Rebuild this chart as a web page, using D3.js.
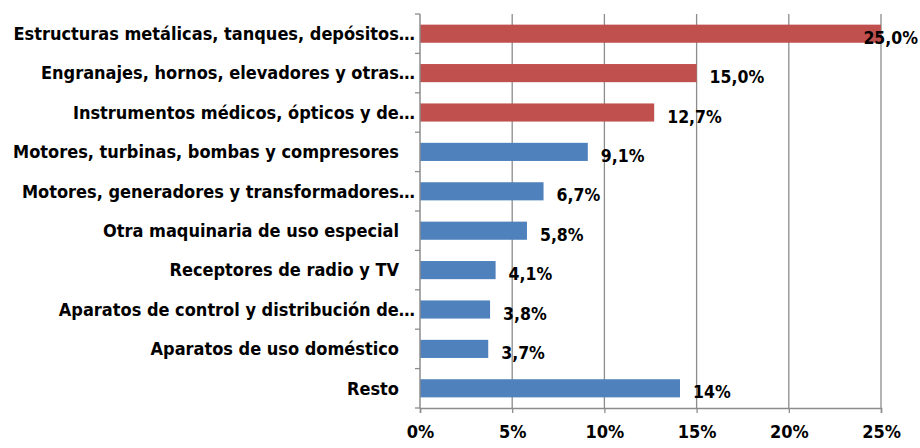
<!DOCTYPE html>
<html>
<head>
<meta charset="utf-8">
<script src="https://cdn.jsdelivr.net/npm/d3@7"></script>
<style>
  body { margin: 0; background: #fff; }
  svg text { font-family: "Liberation Sans Narrow", "Arial Narrow", "DejaVu Sans Condensed", sans-serif; font-weight: bold; fill: #000; }
</style>
</head>
<body>
<div id="chart"></div>
<script>
const categorias = [
  'Estructuras metálicas, tanques, depósitos…',
  'Engranajes, hornos, elevadores y otras…',
  'Instrumentos médicos, ópticos y de…',
  'Motores, turbinas, bombas y compresores',
  'Motores, generadores y transformadores…',
  'Otra maquinaria de uso especial',
  'Receptores de radio y TV',
  'Aparatos de control y distribución de…',
  'Aparatos de uso doméstico',
  'Resto'
];
const valores = [25.0, 15.0, 12.7, 9.1, 6.7, 5.8, 4.1, 3.8, 3.7, 14.1];
const etiquetas = ['25,0%', '15,0%', '12,7%', '9,1%', '6,7%', '5,8%', '4,1%', '3,8%', '3,7%', '14%'];
const destacados = categorias.slice(0, 3);
const xTicks = [0, 5, 10, 15, 20, 25];

function graphIt(){
  const w = 920, h = 448;
  const margin = { top: 14, right: 39, bottom: 40, left: 420 };
  const width = w - margin.left - margin.right;
  const height = h - margin.top - margin.bottom;

  const svg = d3.select('#chart')
    .append('svg')
    .attr('width', w)
    .attr('height', h);
  const g = svg.append('g')
    .attr('transform', 'translate(' + margin.left + ',' + margin.top + ')');

  const x = d3.scaleLinear().domain([0, 25]).range([0, width]);
  const y = d3.scaleBand().domain(categorias).range([0, height]).paddingInner(0.54).paddingOuter(0.27);

  // gridlines
  g.selectAll('.grid')
    .data(xTicks.slice(1))
    .enter().append('line')
    .attr('x1', d => x(d)).attr('x2', d => x(d))
    .attr('y1', 0).attr('y2', height)
    .style('stroke', '#8c8c8c').style('stroke-width', 1.3);

  // bars
  const rows = categorias.map((c, i) => ({ cat: c, val: valores[i], lab: etiquetas[i] }));
  g.selectAll('.bar')
    .data(rows)
    .enter().append('rect')
    .attr('x', 0)
    .attr('y', d => y(d.cat))
    .attr('width', d => x(d.val))
    .attr('height', y.bandwidth())
    .style('fill', d => destacados.includes(d.cat) ? '#C0504D' : '#4F81BD');

  // x axis
  const xAxis = g.append('g')
    .attr('transform', 'translate(0,' + height + ')')
    .call(d3.axisBottom(x).tickValues(xTicks).tickFormat(d => d + '%').tickSize(5).tickPadding(10));
  xAxis.select('.domain').style('stroke', '#8c8c8c').style('stroke-width', 1.5);
  xAxis.selectAll('line').style('stroke', '#8c8c8c').style('stroke-width', 1.3);
  xAxis.selectAll('text').style('font-size', '18px').attr('dy', '0.85em');

  // y axis
  const yAxis = g.append('g').call(d3.axisLeft(y).tickSize(0).tickFormat(''));
  yAxis.select('.domain').style('stroke', '#8c8c8c').style('stroke-width', 1.5).attr('d', 'M0,0V' + height);
  g.selectAll('.ytick')
    .data(d3.range(categorias.length + 1))
    .enter().append('line')
    .attr('x1', -5).attr('x2', 0)
    .attr('y1', d => d * height / categorias.length)
    .attr('y2', d => d * height / categorias.length)
    .style('stroke', '#8c8c8c').style('stroke-width', 1.3);

  // category labels
  g.selectAll('.cat')
    .data(rows)
    .enter().append('text')
    .attr('x', d => d.cat.endsWith('…') ? -5 : -21)
    .attr('y', d => y(d.cat) + y.bandwidth() / 2)
    .attr('dy', '.35em')
    .attr('text-anchor', 'end')
    .style('font-size', '18px')
    .text(d => d.cat);

  // value labels
  g.selectAll('.val')
    .data(rows)
    .enter().append('text')
    .attr('y', d => y(d.cat) + y.bandwidth() / 2 + 10)
    .style('font-size', '17.5px')
    .text(d => d.lab)
    .attr('x', function (d) {
      const tw = this.getComputedTextLength();
      return Math.min(x(d.val) + 13, w - margin.left - tw - 2);
    });
}
graphIt();
</script>
</body>
</html>
